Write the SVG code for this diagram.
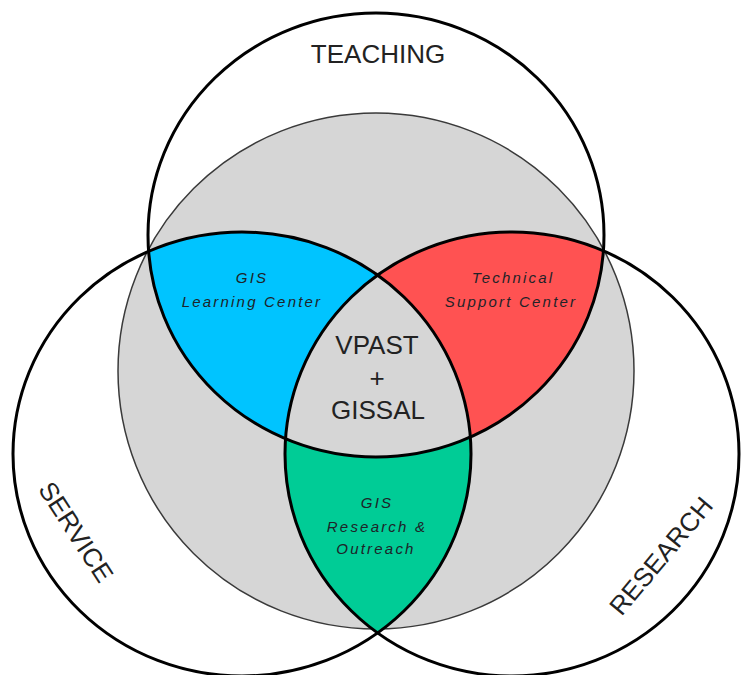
<svg xmlns="http://www.w3.org/2000/svg" width="741" height="675" viewBox="0 0 741 675">
  <style>
    .outline { fill: none; stroke: #000; stroke-width: 3; }
    .label { font-family: "Liberation Sans", Arial, sans-serif; font-size: 26px; fill: #222; text-anchor: middle; }
    .sub { font-family: "Liberation Sans", Arial, sans-serif; font-size: 15px; font-style: italic; fill: #1e2328; text-anchor: middle; letter-spacing: 2.2px; }
  </style>
  <defs>
    <clipPath id="clipTop"><ellipse cx="376" cy="235" rx="228" ry="222"/></clipPath>
    <clipPath id="clipService"><ellipse cx="242" cy="454" rx="229" ry="222"/></clipPath>
    <clipPath id="clipResearch"><ellipse cx="512" cy="454" rx="227" ry="222"/></clipPath>
  </defs>
  <rect width="741" height="675" fill="#fff"/>

  <g id="core">
    <circle cx="376" cy="371" r="258" fill="#d6d6d6" stroke="#3a3a3a" stroke-width="1.5"/>
  </g>

  <g id="learning-center">
    <ellipse cx="242" cy="454" rx="229" ry="222" fill="#00c4ff" clip-path="url(#clipTop)"/>
  </g>
  <g id="technical-support">
    <ellipse cx="512" cy="454" rx="227" ry="222" fill="#ff5252" clip-path="url(#clipTop)"/>
  </g>
  <g id="research-outreach">
    <ellipse cx="512" cy="454" rx="227" ry="222" fill="#00cc96" clip-path="url(#clipService)"/>
  </g>
  <g id="vpast">
    <g clip-path="url(#clipTop)">
      <ellipse cx="512" cy="454" rx="227" ry="222" fill="#d6d6d6" clip-path="url(#clipService)"/>
    </g>
  </g>

  <g id="teaching">
    <ellipse class="outline" cx="376" cy="235" rx="228" ry="222"/>
    <text class="label" x="378" y="63">TEACHING</text>
  </g>
  <g id="service">
    <ellipse class="outline" cx="242" cy="454" rx="229" ry="222"/>
    <text class="label" transform="translate(76,532) rotate(57)" x="0" y="9">SERVICE</text>
  </g>
  <g id="research">
    <ellipse class="outline" cx="512" cy="454" rx="227" ry="222"/>
    <text class="label" transform="translate(661,556) rotate(-50)" x="0" y="9">RESEARCH</text>
  </g>

  <g id="labels">
    <text class="sub" x="252" y="283">GIS</text>
    <text class="sub" x="252" y="307">Learning Center</text>
    <text class="sub" x="513" y="283">Technical</text>
    <text class="sub" x="511" y="307">Support Center</text>
    <text class="sub" x="377" y="508">GIS</text>
    <text class="sub" x="377" y="532">Research &amp;</text>
    <text class="sub" x="376" y="554">Outreach</text>
    <text class="label" x="377" y="354">VPAST</text>
    <text class="label" x="377" y="387">+</text>
    <text class="label" x="378" y="419">GISSAL</text>
  </g>
</svg>
